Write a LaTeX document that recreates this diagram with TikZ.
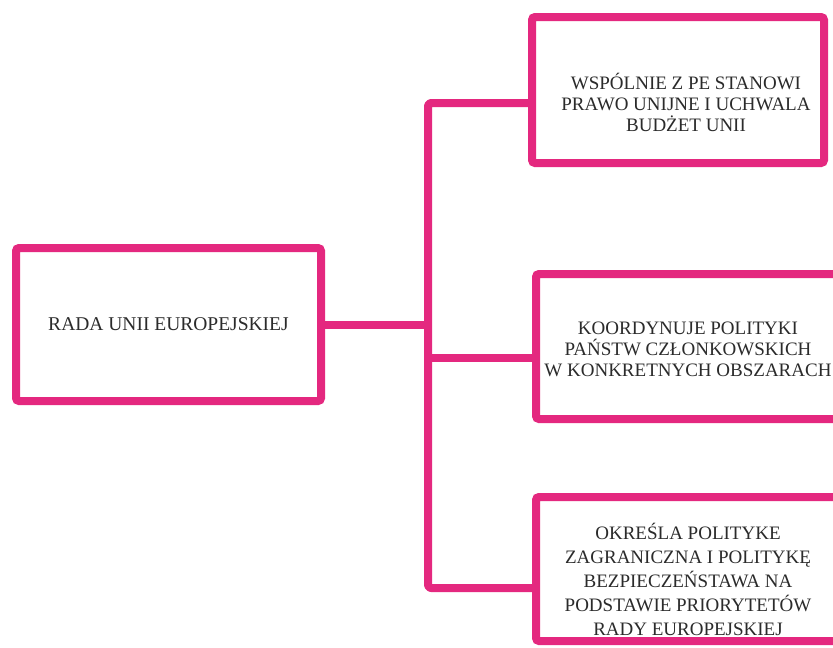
\documentclass[tikz,border=0pt]{standalone}
\usepackage{fontspec}
\setmainfont{Liberation Serif}
\usepackage{xcolor}
\definecolor{rosa}{HTML}{E4287F}
\definecolor{tinta}{HTML}{2B2B2B}

\begin{document}
\begin{tikzpicture}[x=1pt,y=-1pt]
  \tikzstyle{box}=[draw=rosa,line width=8pt,rounded corners=3pt,inner sep=0pt,fill=white,text=tinta,align=center,font=\fontsize{19}{21}\selectfont]
  \tikzstyle{txt}=[text=tinta,align=center,font=\fontsize{19}{21}\selectfont]
  \tikzstyle{link}=[draw=rosa,line width=8pt,line join=round,rounded corners=3pt]

  \useasboundingbox (0,0) rectangle (833,648);

  \node[box,minimum width=305pt,minimum height=153pt,font=\fontsize{19.5}{21}\selectfont] (rada) at (168.5,324.5) {RADA UNII EUROPEJSKIEJ};
  \node[box,minimum width=292pt,minimum height=146pt,
        label={[txt,xshift=8pt,yshift=-12pt]center:WSPÓLNIE Z PE STANOWI\\PRAWO UNIJNE I UCHWALA\\BUDŻET UNII}] (prawo) at (678,90) {};
  \node[box,minimum width=304pt,minimum height=145pt,
        label={[txt,yshift=-2.5pt]center:KOORDYNUJE POLITYKI\\PAŃSTW CZŁONKOWSKICH\\W KONKRETNYCH OBSZARACH}] (koord) at (688,346.5) {};
  \node[box,minimum width=304pt,minimum height=144pt,
        label={[txt,yshift=-10pt,font=\fontsize{19}{24}\selectfont]center:OKREŚLA POLITYKE\\ZAGRANICZNA I POLITYKĘ\\BEZPIECZEŃSTAWA NA\\PODSTAWIE PRIORYTETÓW\\RADY EUROPEJSKIEJ}] (polityka) at (688,569) {};

  % pien i galezie
  \coordinate (t1) at (428,103);
  \coordinate (t2) at (428,358);
  \coordinate (t3) at (428,588);

  \path[link] (t1 -| prawo.west) -- (t1) -- (t3) -- (t3 -| polityka.west);
  \path[link] (t2) -- (t2 -| koord.west);
  \path[link] (rada.east) -- (rada.east -| t1);
\end{tikzpicture}
\end{document}
